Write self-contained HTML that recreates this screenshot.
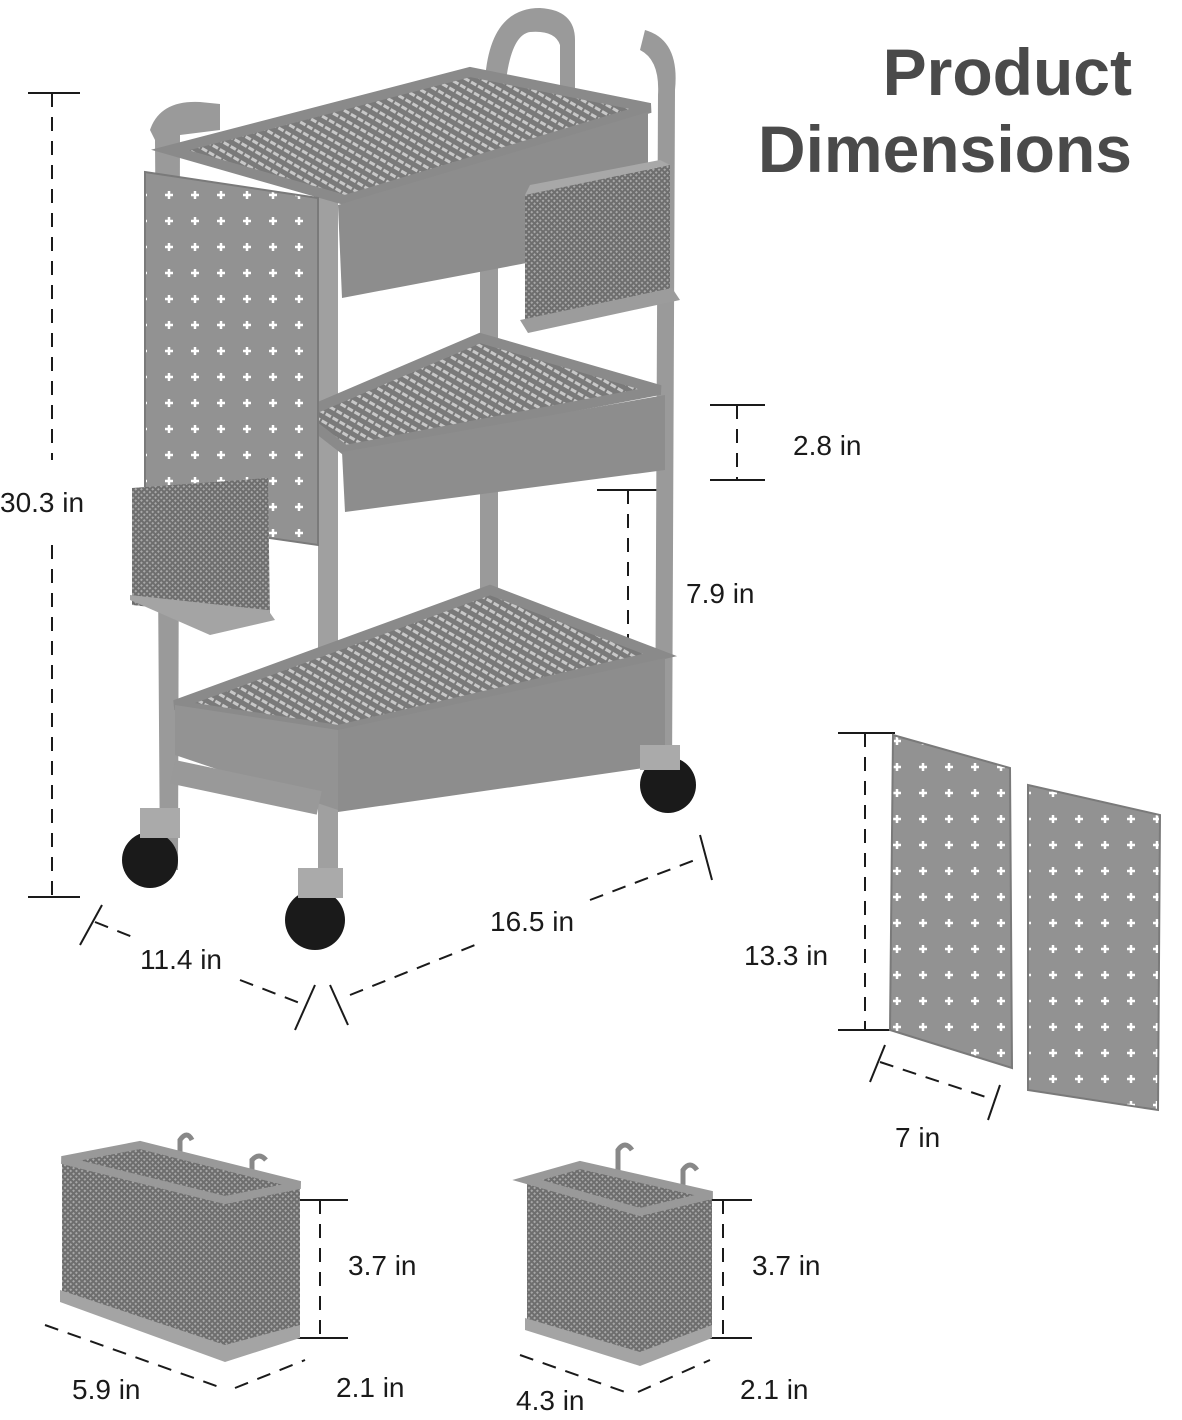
<!DOCTYPE html>
<html><head><meta charset="utf-8"><style>
html,body{margin:0;padding:0;background:#fff;}
svg{display:block}
text{font-family:"Liberation Sans",sans-serif;fill:#1a1a1a}
</style></head><body>
<svg width="1182" height="1420" viewBox="0 0 1182 1420" xmlns="http://www.w3.org/2000/svg">
<defs>
<pattern id="mesh" width="8" height="8" patternUnits="userSpaceOnUse" patternTransform="rotate(30)">
<rect width="8" height="8" fill="#7a7a7a"/><rect x="1" y="2" width="6" height="3" fill="#c8c8c8"/>
</pattern>
<pattern id="fmesh" width="4" height="4" patternUnits="userSpaceOnUse" patternTransform="rotate(45)">
<rect width="4" height="4" fill="#6e6e6e"/><rect x="1" y="1" width="2" height="2" fill="#a8a8a8"/>
</pattern>
<pattern id="holes" width="26" height="26" patternUnits="userSpaceOnUse">
<rect width="26" height="26" fill="#929292"/>
<path d="M9 13h8M13 9v8" stroke="#fff" stroke-width="2.5"/>
</pattern>
</defs>
<g stroke="#1a1a1a" stroke-width="2" stroke-dasharray="14 10" fill="none">
<line x1="52" y1="93" x2="52" y2="460"/><line x1="52" y1="545" x2="52" y2="897"/>
<line x1="737" y1="405" x2="737" y2="480"/>
<line x1="628" y1="490" x2="628" y2="688"/>
<line x1="865" y1="733" x2="865" y2="1030"/>
<line x1="320" y1="1200" x2="320" y2="1338"/>
<line x1="723" y1="1200" x2="723" y2="1338"/>
<line x1="95" y1="922" x2="135" y2="938"/>
<line x1="240" y1="980" x2="305" y2="1005"/>
<line x1="350" y1="995" x2="475" y2="945"/>
<line x1="590" y1="900" x2="695" y2="860"/>
<line x1="880" y1="1062" x2="995" y2="1100"/>
<line x1="45" y1="1325" x2="222" y2="1388"/>
<line x1="235" y1="1388" x2="305" y2="1360"/>
<line x1="520" y1="1355" x2="625" y2="1392"/>
<line x1="638" y1="1392" x2="710" y2="1360"/>
</g>
<g stroke="#1a1a1a" stroke-width="2">
<line x1="28" y1="93" x2="80" y2="93"/><line x1="28" y1="897" x2="80" y2="897"/>
<line x1="710" y1="405" x2="765" y2="405"/><line x1="710" y1="480" x2="765" y2="480"/>
<line x1="597" y1="490" x2="660" y2="490"/><line x1="597" y1="688" x2="660" y2="688"/>
<line x1="838" y1="733" x2="895" y2="733"/><line x1="838" y1="1030" x2="895" y2="1030"/>
<line x1="295" y1="1200" x2="348" y2="1200"/><line x1="295" y1="1338" x2="348" y2="1338"/>
<line x1="698" y1="1200" x2="752" y2="1200"/><line x1="698" y1="1338" x2="752" y2="1338"/>
<line x1="80" y1="945" x2="102" y2="905"/><line x1="295" y1="1030" x2="315" y2="985"/>
<line x1="348" y1="1025" x2="330" y2="985"/><line x1="700" y1="835" x2="712" y2="880"/>
<line x1="870" y1="1082" x2="885" y2="1045"/><line x1="988" y1="1120" x2="1000" y2="1085"/>
</g>
<!-- cart -->
<g>
<path d="M150 130 Q160 100 200 102 L220 104 L220 130 L180 135 L178 870 L160 870 L155 140Z" fill="#9a9a9a"/>
<path d="M485 80 Q490 8 540 8 Q575 10 575 40 L575 90 L560 90 L560 45 Q555 30 530 32 Q510 35 505 90Z" fill="#9a9a9a"/>
<path d="M645 30 Q680 40 675 90 L672 780 L655 780 L658 95 Q660 60 640 50Z" fill="#9a9a9a"/>
<rect x="318" y="190" width="20" height="690" fill="#a0a0a0"/>
<rect x="480" y="250" width="18" height="460" fill="#9a9a9a"/>
<polygon points="170,150 470,72 650,108 345,200" fill="url(#mesh)" stroke="#8a8a8a" stroke-width="10"/>
<polygon points="338,205 648,112 648,240 342,298" fill="#8d8d8d"/>
<polygon points="300,415 480,338 660,390 345,450" fill="url(#mesh)" stroke="#8a8a8a" stroke-width="10"/>
<polygon points="342,452 665,395 665,470 345,512" fill="#8d8d8d"/>
<polygon points="175,705 490,590 660,655 338,730" fill="url(#mesh)" stroke="#8a8a8a" stroke-width="10"/>
<polygon points="175,705 338,730 338,810 175,755" fill="#939393"/>
<polygon points="338,730 665,658 665,765 338,812" fill="#8d8d8d"/>
<polygon points="145,172 318,198 318,545 145,520" fill="url(#holes)" stroke="#7a7a7a" stroke-width="2"/>
<polygon points="525,195 670,165 670,290 525,320" fill="url(#fmesh)"/>
<polygon points="520,320 672,288 680,300 528,333" fill="#9c9c9c"/>
<polygon points="525,195 670,165 660,160 530,185" fill="#a8a8a8"/>
<polygon points="132,488 268,478 270,620 132,605" fill="url(#fmesh)"/>
<polygon points="130,600 210,635 275,620 268,610 130,595" fill="#a4a4a4"/>
<rect x="175" y="760" width="150" height="24" fill="#999" transform="rotate(12 175 760)"/>
<circle cx="150" cy="860" r="28" fill="#1a1a1a"/><rect x="140" y="808" width="40" height="30" fill="#aaa"/>
<circle cx="315" cy="920" r="30" fill="#1a1a1a"/><rect x="298" y="868" width="45" height="30" fill="#aaa"/>
<circle cx="668" cy="785" r="28" fill="#1a1a1a"/><rect x="640" y="745" width="40" height="25" fill="#aaa"/>
</g>
<!-- panels -->
<polygon points="893,735 1010,768 1012,1068 890,1030" fill="url(#holes)" stroke="#7a7a7a" stroke-width="2"/>
<polygon points="1028,785 1160,815 1158,1110 1028,1090" fill="url(#holes)" stroke="#7a7a7a" stroke-width="2"/>
<!-- bottom baskets -->
<path d="M180 1165 L180 1140 Q187 1130 192 1140 M252 1175 L252 1160 Q259 1152 266 1160" stroke="#888" stroke-width="5" fill="none"/>
<polygon points="62,1160 140,1145 300,1185 300,1330 225,1360 62,1300" fill="url(#fmesh)"/>
<polygon points="62,1160 140,1145 300,1185 225,1200" fill="none" stroke="#999" stroke-width="8"/>
<polygon points="60,1290 225,1345 300,1325 300,1338 225,1362 60,1302" fill="#a4a4a4"/>
<path d="M618 1180 L618 1150 Q625 1140 632 1150 M683 1190 L683 1170 Q690 1160 697 1170" stroke="#888" stroke-width="5" fill="none"/>
<polygon points="527,1180 580,1165 712,1195 712,1330 640,1365 527,1325" fill="url(#fmesh)"/>
<polygon points="527,1180 580,1165 712,1195 640,1212" fill="none" stroke="#999" stroke-width="8"/>
<polygon points="525,1318 640,1352 712,1325 712,1338 640,1366 525,1330" fill="#a4a4a4"/>
<!-- text -->
<text x="1132" y="95" font-size="66" font-weight="bold" text-anchor="end" style="fill:#4a4a4a">Product</text>
<text x="1132" y="172" font-size="66" font-weight="bold" text-anchor="end" style="fill:#4a4a4a">Dimensions</text>
<g font-size="28">
<text x="0" y="512">30.3 in</text>
<text x="793" y="455">2.8 in</text>
<text x="686" y="603">7.9 in</text>
<text x="490" y="931">16.5 in</text>
<text x="140" y="969">11.4 in</text>
<text x="744" y="965">13.3 in</text>
<text x="895" y="1147">7 in</text>
<text x="348" y="1275">3.7 in</text>
<text x="72" y="1399">5.9 in</text>
<text x="336" y="1397">2.1 in</text>
<text x="752" y="1275">3.7 in</text>
<text x="516" y="1410">4.3 in</text>
<text x="740" y="1399">2.1 in</text>
</g>
</svg>
</body></html>
